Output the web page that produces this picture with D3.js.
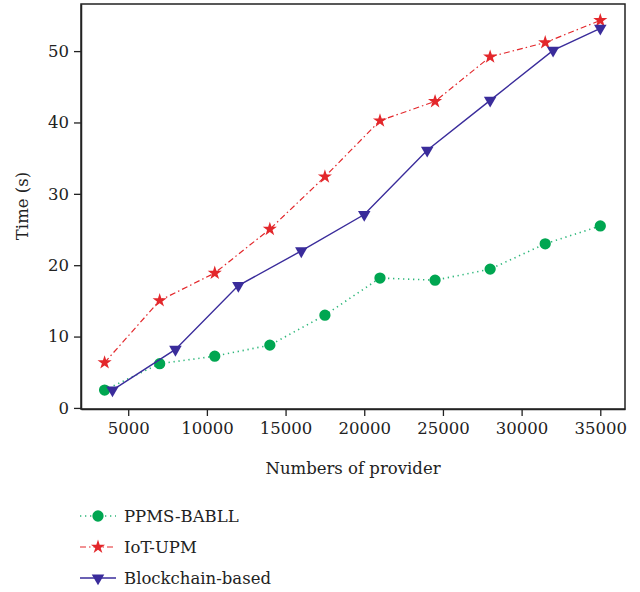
<!DOCTYPE html>
<meta charset="utf-8">
<style>
body { margin: 0; background: #fff; }
text { font-family: "DejaVu Serif", serif; fill: #222; }
.domain, .tick line { stroke: #222; }
</style>
<body>
<script src="https://cdn.jsdelivr.net/npm/d3@7"></script>
<script>
var width = 640,
    height = 592;
var margin = {left: 81, top: 4, right: 15, bottom: 183};
var fontSize = '16.5px';

// data
var ppmsX = [3500, 7000, 10500, 14000, 17500, 21000, 24500, 28000, 31500, 35000];
var ppmsY = [2.5, 6.2, 7.25, 8.8, 13.0, 18.2, 17.9, 19.45, 23.0, 25.5];
var iotX = [3500, 7000, 10500, 14000, 17500, 21000, 24500, 28000, 31500, 35000];
var iotY = [6.35, 15.05, 18.9, 25.05, 32.4, 40.25, 42.95, 49.2, 51.2, 54.3];
var bcX = [4000, 8000, 12000, 16000, 20000, 24000, 28000, 32000, 35000];
var bcY = [2.5, 8.2, 17.15, 22.0, 27.1, 36.1, 43.1, 50.1, 53.2];
var xTicks = [5000, 10000, 15000, 20000, 25000, 30000, 35000];
var yTicks = [0, 10, 20, 30, 40, 50];

var series = [
  {name: 'PPMS-BABLL', x: ppmsX, y: ppmsY, color: '#00a651', line: '#2cb77a', dash: '1.3,3.7', width: 1.6, mark: 'circle'},
  {name: 'IoT-UPM', x: iotX, y: iotY, color: '#e3272b', line: '#e3272b', dash: '6,3,1.5,3', width: 1.2, mark: 'star'},
  {name: 'Blockchain-based', x: bcX, y: bcY, color: '#3a2c9b', line: '#3a2c9b', dash: null, width: 1.4, mark: 'tri'}
];

var svg = d3.select('body').append('svg')
    .attr('width', width)
    .attr('height', height);

var x = d3.scaleLinear().domain([2000, 36570]).range([margin.left, width - margin.right]);
var y = d3.scaleLinear().domain([-0.15, 56.6]).range([height - margin.bottom, margin.top]);

// frame
svg.append('rect')
    .attr('x', x.range()[0]).attr('y', y.range()[1])
    .attr('width', x.range()[1] - x.range()[0])
    .attr('height', y.range()[0] - y.range()[1])
    .attr('fill', 'none').attr('stroke', '#222').attr('stroke-width', 1.5);

var xAxis = svg.append('g')
    .attr('transform', 'translate(0,' + y.range()[0] + ')')
    .call(d3.axisBottom(x).tickValues(xTicks).tickSize(7).tickPadding(6).tickSizeOuter(0).tickFormat(d3.format('d')));
var yAxis = svg.append('g')
    .attr('transform', 'translate(' + x.range()[0] + ',0)')
    .call(d3.axisLeft(y).tickValues(yTicks).tickSize(7).tickPadding(5).tickSizeOuter(0));
[xAxis, yAxis].forEach(function(g) {
  g.selectAll('text').style('font-size', fontSize).style('font-family', '"DejaVu Serif", serif').attr('fill', '#222');
  g.select('.domain').attr('stroke-width', 1.5);
  g.selectAll('.tick line').attr('stroke-width', 1.3);
});

svg.append('text')
    .attr('x', 353).attr('y', 474)
    .attr('text-anchor', 'middle')
    .style('font-size', fontSize)
    .text('Numbers of provider');
svg.append('text')
    .attr('transform', 'translate(28,206) rotate(-90)')
    .attr('text-anchor', 'middle')
    .style('font-size', fontSize)
    .text('Time (s)');

function symbolPath(mark) {
  if (mark === 'circle') return d3.symbol().type(d3.symbolCircle).size(100)();
  if (mark === 'star') return d3.symbol().type(d3.symbolStar).size(62)();
  return d3.symbol().type(d3.symbolTriangle).size(68)();
}

var line = d3.line();
series.forEach(function(s) {
  var pts = s.x.map(function(v, i) { return [x(v), y(s.y[i])]; });
  svg.append('path')
      .attr('d', line(pts))
      .attr('fill', 'none')
      .attr('stroke', s.line)
      .attr('stroke-width', s.width)
      .attr('stroke-dasharray', s.dash);
  svg.append('g').selectAll('path')
    .data(pts)
    .join('path')
      .attr('d', symbolPath(s.mark))
      .attr('transform', function(d) {
        return 'translate(' + d[0] + ',' + d[1] + ')' + (s.mark === 'tri' ? ' rotate(180)' : '');
      })
      .attr('fill', s.color);
});

// legend
var legend = svg.append('g');
series.forEach(function(s, i) {
  var ly = 516 + i * 31;
  legend.append('line')
      .attr('x1', 80).attr('x2', 116).attr('y1', ly).attr('y2', ly)
      .attr('stroke', s.line).attr('stroke-width', s.width)
      .attr('stroke-dasharray', s.dash);
  legend.append('path')
      .attr('d', symbolPath(s.mark))
      .attr('transform', 'translate(98,' + ly + ')' + (s.mark === 'tri' ? ' rotate(180)' : ''))
      .attr('fill', s.color);
  legend.append('text')
      .attr('x', 124).attr('y', ly + 6)
      .style('font-size', fontSize)
      .text(s.name);
});
</script>
</body>
